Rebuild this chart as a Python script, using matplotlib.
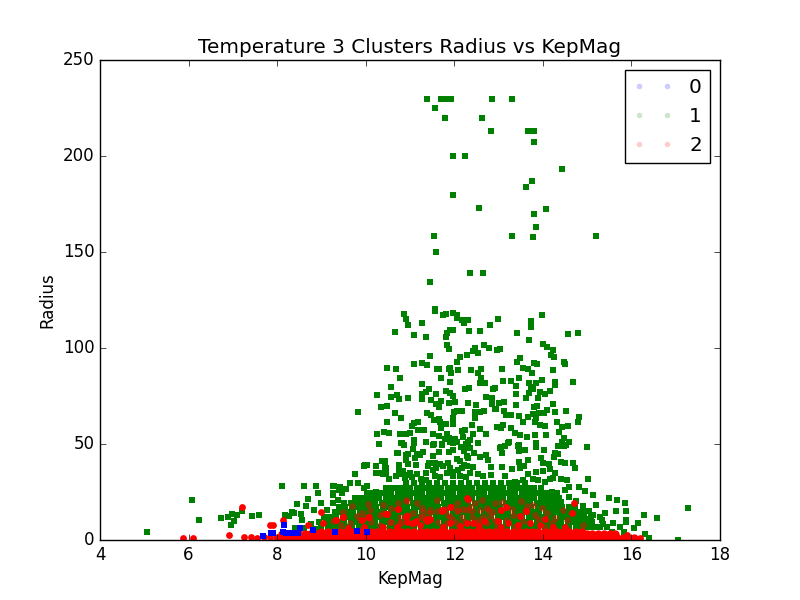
import numpy as np
import matplotlib
matplotlib.use("Agg")
import matplotlib.pyplot as plt
from matplotlib.lines import Line2D

plt.style.use('classic')

#%% data (KepMag, Radius)
# cluster 1, isolated points high up
green_outliers = [
    [11.39, 229.5], [11.71, 229.5], [11.81, 229.5], [11.93, 229.5], [12.86, 229.5], [13.31, 229.5],
    [11.57, 224.8], [11.80, 219.6], [12.63, 219.6], [12.84, 212.9], [13.67, 212.9], [13.81, 212.9],
    [13.81, 207.1], [11.98, 199.8], [12.25, 199.8], [14.44, 193.1], [13.76, 186.8], [13.63, 183.7],
    [11.98, 179.5], [12.56, 172.8], [14.08, 172.2], [13.81, 169.6], [13.85, 162.9], [11.55, 158.2],
    [13.31, 158.2], [13.78, 157.7], [15.21, 158.2], [11.59, 149.8], [12.36, 138.9], [12.65, 138.9],
    [11.46, 134.2], [11.57, 120.2],
]

# cluster 1, scattered cloud 47 < Radius < 120
green_mid = [
    [10.87, 117.5], [10.92, 114.9], [10.96, 111.8], [10.65, 108.2], [11.08, 106.6], [11.26, 112.8],
    [11.37, 105.6], [11.57, 119.1], [11.75, 117.0], [11.81, 117.5], [11.98, 118.1], [12.05, 117.0],
    [12.05, 115.5], [12.18, 114.4], [12.23, 112.8], [12.32, 114.4], [11.91, 109.2], [11.96, 109.2],
    [11.84, 107.6], [11.82, 105.6], [12.34, 108.7], [12.59, 108.7], [12.81, 111.8], [12.99, 114.9],
    [13.42, 107.6], [13.73, 113.9], [13.74, 110.8], [13.99, 117.0], [14.57, 107.1], [14.80, 107.6],
    [13.69, 104.0], [14.01, 101.9], [14.10, 100.3], [14.24, 98.8], [14.19, 96.2], [14.26, 95.1],
    [14.48, 92.5], [14.51, 91.5], [12.68, 101.4], [12.79, 99.8], [12.97, 98.8], [13.04, 99.3],
    [12.47, 99.8], [12.43, 98.3], [12.54, 97.2], [12.29, 96.2], [12.14, 95.1], [12.05, 92.5],
    [11.84, 101.4], [11.89, 99.3], [11.46, 95.7], [11.08, 91.5], [11.28, 92.0], [11.39, 91.0],
    [10.47, 89.4], [10.69, 88.9], [10.78, 84.2], [11.60, 88.9], [11.66, 88.9], [11.87, 88.9],
    [11.91, 89.4], [11.93, 86.8], [12.09, 88.4], [12.38, 88.4], [12.54, 86.8], [12.61, 88.9],
    [13.08, 88.9], [13.42, 92.5], [13.49, 94.6], [13.56, 89.4], [13.67, 88.9], [13.76, 86.8],
    [13.81, 92.0], [13.87, 91.5], [14.24, 88.4], [11.71, 84.2], [11.91, 82.1], [11.28, 81.1],
    [12.61, 84.2], [12.59, 81.6], [12.70, 81.6], [13.11, 82.6], [13.29, 82.6], [13.45, 84.2],
    [13.69, 81.6], [13.85, 81.6], [13.99, 83.2], [14.28, 82.1], [14.28, 80.6], [14.69, 82.1],
    [10.58, 79.5], [10.26, 75.3], [10.58, 74.3], [10.71, 75.3], [10.76, 73.3], [10.96, 73.8],
    [11.26, 75.9], [11.35, 76.9], [11.44, 78.5], [11.59, 75.9], [11.82, 77.4], [11.91, 76.4],
    [11.98, 74.8], [12.25, 78.5], [12.34, 79.0], [12.72, 74.3], [12.88, 78.5], [12.93, 79.0],
    [12.86, 73.8], [13.02, 71.2], [13.13, 71.7], [13.40, 75.9], [13.40, 80.0], [13.63, 73.8],
    [13.69, 76.4], [13.74, 79.5], [13.78, 78.5], [13.90, 73.8], [13.94, 76.9], [14.05, 75.9],
    [14.17, 77.4], [14.24, 70.7], [11.26, 73.3], [11.48, 72.7], [11.59, 70.7], [11.66, 69.1],
    [11.71, 72.2], [11.87, 71.2], [12.02, 71.7], [12.32, 71.2], [12.50, 70.1], [12.86, 70.7],
    [12.93, 68.1], [13.40, 70.1], [13.81, 69.1], [13.87, 69.6], [13.92, 66.0], [14.10, 67.5],
    [14.28, 66.5], [14.53, 67.0], [9.83, 66.5], [10.35, 69.1], [10.47, 69.6], [10.67, 66.0],
    [10.80, 63.4], [10.47, 61.3], [11.05, 59.2], [11.08, 60.8], [11.17, 61.3], [11.17, 57.1],
    [11.32, 57.1], [11.39, 66.0], [11.48, 64.9], [11.55, 62.3], [11.66, 62.8], [11.68, 61.3],
    [11.71, 58.2], [11.82, 60.2], [11.96, 60.2], [12.00, 66.5], [12.05, 67.0], [11.96, 63.4],
    [12.18, 67.0], [12.47, 66.5], [12.47, 63.4], [12.59, 66.5], [12.68, 67.0], [12.41, 59.7],
    [12.57, 57.6], [12.95, 68.1], [13.13, 67.0], [13.17, 64.9], [13.29, 64.9], [13.47, 64.4],
    [13.56, 61.3], [13.67, 63.9], [13.78, 65.5], [13.85, 63.4], [13.94, 66.0], [14.03, 66.0],
    [13.83, 61.3], [13.94, 59.7], [14.05, 59.2], [14.33, 61.3], [14.44, 58.7], [14.57, 59.2],
    [14.82, 63.9], [14.80, 61.3], [10.26, 55.0], [10.42, 56.1], [10.53, 55.6], [10.78, 55.0],
    [10.92, 55.0], [10.99, 55.6], [11.10, 51.9], [11.10, 50.4], [11.37, 50.9], [11.53, 55.0],
    [11.55, 49.8], [11.66, 54.0], [11.78, 52.4], [11.84, 55.0], [11.89, 53.0], [12.02, 52.4],
    [12.05, 50.9], [12.18, 56.6], [12.25, 57.1], [12.20, 53.5], [12.36, 51.9], [12.43, 55.0],
    [12.72, 55.0], [12.97, 58.7], [13.06, 58.2], [13.11, 59.7], [13.29, 58.2], [13.38, 55.6],
    [13.49, 54.5], [13.65, 53.5], [13.83, 54.5], [14.08, 54.5], [14.37, 56.1], [14.48, 53.0],
    [14.60, 50.9], [15.00, 48.3], [10.31, 49.8], [10.80, 50.4], [10.87, 49.3], [11.73, 49.3],
    [11.98, 50.4], [12.29, 47.8], [13.06, 48.3], [13.15, 48.8], [13.24, 50.9], [13.47, 49.3],
    [13.85, 50.4], [14.35, 48.8], [14.53, 49.3],
]

# cluster 1, lower scattered part 30 < Radius < 52
green_low = [
    [12.30, 51.2], [12.35, 47.7], [12.54, 50.3], [13.04, 47.7], [13.08, 45.1], [13.22, 50.7],
    [13.44, 49.1], [13.47, 46.4], [13.60, 46.7], [13.67, 41.7], [13.85, 49.8], [13.85, 48.3],
    [14.03, 46.7], [13.96, 42.5], [14.01, 39.9], [14.28, 45.1], [14.35, 44.6], [14.26, 43.1],
    [14.44, 51.2], [14.48, 49.1], [14.69, 39.9], [14.51, 39.9], [14.14, 39.4], [14.17, 36.8],
    [13.85, 35.2], [13.67, 34.2], [13.58, 38.4], [13.47, 40.4], [13.49, 37.3], [13.31, 36.8],
    [13.08, 37.8], [12.84, 37.8], [12.77, 41.7], [12.72, 44.3], [12.59, 43.4], [12.45, 45.1],
    [12.32, 42.5], [12.43, 37.8], [12.36, 34.7], [12.54, 34.2], [12.65, 33.2], [12.84, 33.7],
    [13.15, 33.2], [13.38, 30.0], [13.56, 31.1], [13.78, 31.6], [13.90, 31.1], [14.05, 30.0],
    [14.28, 34.7], [14.42, 31.6], [14.55, 31.1], [14.60, 27.8], [14.82, 27.8], [15.02, 31.6],
    [10.31, 49.8], [10.80, 50.3], [10.87, 49.3], [11.10, 50.9], [11.37, 50.9], [11.53, 49.3],
    [11.73, 49.8], [11.91, 50.9], [12.04, 50.9], [12.27, 49.8], [11.07, 47.2], [10.96, 44.6],
    [10.71, 45.1], [11.16, 44.6], [11.30, 45.7], [11.53, 43.6], [11.66, 45.7], [11.89, 45.7],
    [11.98, 46.7], [12.16, 48.3], [12.23, 46.2], [12.29, 43.6], [10.37, 41.0], [10.44, 41.0],
    [10.92, 41.5], [10.96, 39.4], [11.12, 42.5], [11.23, 44.1], [11.44, 39.9], [11.57, 39.9],
    [11.68, 39.4], [11.86, 39.9], [12.07, 42.0], [12.14, 41.0], [12.23, 38.9], [9.99, 38.9],
    [10.24, 38.4], [10.44, 37.8], [10.76, 36.3], [10.85, 35.8], [11.01, 34.7], [11.14, 38.9],
    [11.16, 34.2], [11.37, 34.7], [11.41, 38.4], [11.53, 36.3], [11.59, 37.3], [11.75, 38.4],
    [11.91, 37.3], [11.98, 35.2], [12.09, 36.3], [12.18, 37.3], [12.29, 38.4], [9.76, 34.2],
    [10.24, 34.7], [10.40, 34.2], [10.46, 34.2], [10.53, 31.6], [10.69, 33.2], [10.78, 34.2],
    [10.89, 32.1], [10.96, 33.7], [11.05, 32.6], [11.25, 31.6], [11.37, 31.1], [11.57, 33.2],
    [11.68, 32.6], [11.84, 34.7], [11.98, 33.2], [12.14, 33.2], [12.27, 32.6], [9.27, 28.3],
    [9.42, 27.4], [9.49, 26.4], [9.27, 24.3], [9.38, 20.8], [9.64, 29.5], [9.83, 29.9],
    [9.95, 26.9], [14.73, 37.3], [15.03, 31.6], [14.42, 40.4], [14.24, 32.1], [14.01, 36.1],
    [14.15, 31.9],
]

# cluster 1, the sparse edges of the cloud near the axis
green_edges = [
    [5.05, 4.2], [6.08, 20.7], [6.23, 10.2], [6.74, 11.3], [6.90, 11.8], [6.99, 13.5],
    [7.03, 10.1], [7.09, 12.8], [6.96, 7.6], [7.21, 14.9], [7.44, 12.3], [7.59, 12.8],
    [8.12, 27.9], [8.45, 18.6], [8.61, 27.9], [8.66, 17.5], [8.88, 27.9], [8.93, 24.3],
    [8.84, 15.4], [8.34, 14.4], [8.39, 13.9], [8.54, 13.5], [8.27, 12.3], [8.18, 12.8],
    [8.41, 6.1], [8.61, 6.1], [8.76, 8.2], [8.86, 5.7], [9.29, 27.9], [9.40, 25.9],
    [9.27, 23.3], [9.46, 24.3], [9.56, 26.4], [9.76, 34.2], [9.97, 38.7], [10.02, 38.9],
    [10.24, 38.4], [10.29, 49.8], [10.44, 41.0], [10.46, 37.3], [10.40, 34.7], [10.25, 34.7],
    [10.72, 45.1], [10.81, 50.3], [10.86, 49.3], [10.91, 44.1], [10.75, 38.9], [10.81, 34.7],
    [9.82, 29.5], [10.02, 28.3], [10.23, 24.8], [10.47, 23.8], [9.27, 19.1], [9.49, 16.5],
    [8.98, 19.5], [9.05, 12.0], [8.95, 9.5], [9.12, 15.5], [8.70, 21.5], [8.55, 10.5],
    [15.14, 23.3], [15.50, 21.7], [15.68, 20.7], [15.86, 19.1], [15.66, 14.9], [15.88, 14.9],
    [17.28, 16.5], [16.29, 12.8], [16.58, 11.3], [15.88, 9.2], [15.88, 10.4], [16.31, 3.3],
    [16.40, 1.2], [17.06, 0.2], [15.29, 11.8], [15.33, 10.4], [15.14, 12.8], [14.97, 10.8],
    [15.44, 6.6], [15.59, 8.7], [15.74, 6.6], [15.83, 4.3], [14.12, 23.8], [14.21, 25.2],
    [14.33, 24.3], [14.42, 20.0], [14.28, 16.8], [14.54, 13.9], [14.69, 13.9], [14.84, 12.2],
    [14.60, 22.5], [14.75, 20.5], [14.90, 17.5], [15.05, 15.0], [15.20, 18.0], [15.40, 14.0],
    [14.50, 26.0], [14.95, 25.5], [15.35, 8.5], [16.05, 6.0], [16.15, 9.0], [15.55, 4.0],
]

# cluster 1, the dense core (one list of KepMag values per Radius level)
dense_y = [29.5, 27.0, 24.5, 22.0, 19.5, 17.0, 14.5, 12.0, 9.5, 7.0]
dense_x = [
    [10.90, 11.08, 11.26, 11.44, 11.62, 11.80, 11.98, 12.16, 12.34, 12.52, 12.70, 12.88, 13.06,
     13.24, 13.42, 13.60],
    [10.45, 10.59, 10.73, 10.87, 11.01, 11.15, 11.29, 11.43, 11.57, 11.71, 11.85, 11.99, 12.13,
     12.27, 12.41, 12.55, 12.69, 12.83, 12.97, 13.11, 13.25, 13.39, 13.53, 13.67, 13.81, 13.95],
    [10.02, 10.16, 10.30, 10.44, 10.58, 10.72, 10.86, 11.00, 11.14, 11.28, 11.42, 11.56, 11.70,
     11.84, 11.98, 12.12, 12.26, 12.40, 12.54, 12.68, 12.82, 12.96, 13.10, 13.24, 13.38, 13.52,
     13.66, 13.80, 13.94, 14.08, 14.22],
    [9.75, 9.89, 10.03, 10.17, 10.31, 10.45, 10.59, 10.73, 10.87, 11.01, 11.15, 11.29, 11.43,
     11.57, 11.71, 11.85, 11.99, 12.13, 12.27, 12.41, 12.55, 12.69, 12.83, 12.97, 13.11, 13.25,
     13.39, 13.53, 13.67, 13.81, 13.95, 14.09, 14.23, 14.37],
    [9.52, 9.66, 9.80, 9.94, 10.08, 10.22, 10.36, 10.50, 10.64, 10.78, 10.92, 11.06, 11.20,
     11.34, 11.48, 11.62, 11.76, 11.90, 12.04, 12.18, 12.32, 12.46, 12.60, 12.74, 12.88, 13.02,
     13.16, 13.30, 13.44, 13.58, 13.72, 13.86, 14.00, 14.14, 14.28, 14.42],
    [9.40, 9.54, 9.68, 9.82, 9.96, 10.10, 10.24, 10.38, 10.52, 10.66, 10.80, 10.94, 11.08,
     11.22, 11.36, 11.50, 11.64, 11.78, 11.92, 12.06, 12.20, 12.34, 12.48, 12.62, 12.76, 12.90,
     13.04, 13.18, 13.32, 13.46, 13.60, 13.74, 13.88, 14.02, 14.16, 14.30, 14.44, 14.58, 14.72],
    [9.30, 9.44, 9.58, 9.72, 9.86, 10.00, 10.14, 10.28, 10.42, 10.56, 10.70, 10.84, 10.98,
     11.12, 11.26, 11.40, 11.54, 11.68, 11.82, 11.96, 12.10, 12.24, 12.38, 12.52, 12.66, 12.80,
     12.94, 13.08, 13.22, 13.36, 13.50, 13.64, 13.78, 13.92, 14.06, 14.20, 14.34, 14.48, 14.62,
     14.76, 14.90],
    [9.20, 9.34, 9.48, 9.62, 9.76, 9.90, 10.04, 10.18, 10.32, 10.46, 10.60, 10.74, 10.88,
     11.02, 11.16, 11.30, 11.44, 11.58, 11.72, 11.86, 12.00, 12.14, 12.28, 12.42, 12.56, 12.70,
     12.84, 12.98, 13.12, 13.26, 13.40, 13.54, 13.68, 13.82, 13.96, 14.10, 14.24, 14.38, 14.52,
     14.66, 14.80, 14.94, 15.08],
    [9.10, 9.24, 9.38, 9.52, 9.66, 9.80, 9.94, 10.08, 10.22, 10.36, 10.50, 10.64, 10.78,
     10.92, 11.06, 11.20, 11.34, 11.48, 11.62, 11.76, 11.90, 12.04, 12.18, 12.32, 12.46, 12.60,
     12.74, 12.88, 13.02, 13.16, 13.30, 13.44, 13.58, 13.72, 13.86, 14.00, 14.14, 14.28, 14.42,
     14.56, 14.70, 14.84, 14.98, 15.12],
    [9.00, 9.14, 9.28, 9.42, 9.56, 9.70, 9.84, 9.98, 10.12, 10.26, 10.40, 10.54, 10.68,
     10.82, 10.96, 11.10, 11.24, 11.38, 11.52, 11.66, 11.80, 11.94, 12.08, 12.22, 12.36, 12.50,
     12.64, 12.78, 12.92, 13.06, 13.20, 13.34, 13.48, 13.62, 13.76, 13.90, 14.04, 14.18, 14.32,
     14.46, 14.60, 14.74, 14.88, 15.02, 15.16, 15.30],
]

# cluster 2, the solid band along the axis
band_y = [1.2, 3.0, 4.4]
band_x = [
    [8.00, 8.13, 8.26, 8.39, 8.52, 8.65, 8.78, 8.91, 9.04, 9.17, 9.30, 9.43, 9.56, 9.69, 9.82,
     9.95, 10.08, 10.21, 10.34, 10.47, 10.60, 10.73, 10.86, 10.99, 11.12, 11.25, 11.38, 11.51,
     11.64, 11.77, 11.90, 12.03, 12.16, 12.29, 12.42, 12.55, 12.68, 12.81, 12.94, 13.07, 13.20,
     13.33, 13.46, 13.59, 13.72, 13.85, 13.98, 14.11, 14.24, 14.37, 14.50, 14.63, 14.76, 14.89,
     15.02, 15.15, 15.28, 15.41, 15.54, 15.67, 15.80, 15.93, 16.06],
    [8.10, 8.23, 8.36, 8.49, 8.62, 8.75, 8.88, 9.01, 9.14, 9.27, 9.40, 9.53, 9.66, 9.79, 9.92,
     10.05, 10.18, 10.31, 10.44, 10.57, 10.70, 10.83, 10.96, 11.09, 11.22, 11.35, 11.48, 11.61,
     11.74, 11.87, 12.00, 12.13, 12.26, 12.39, 12.52, 12.65, 12.78, 12.91, 13.04, 13.17, 13.30,
     13.43, 13.56, 13.69, 13.82, 13.95, 14.08, 14.21, 14.34, 14.47, 14.60, 14.73, 14.86, 14.99,
     15.12, 15.25, 15.38, 15.51, 15.64],
    [9.00, 9.14, 9.28, 9.42, 9.56, 9.70, 9.84, 9.98, 10.12, 10.26, 10.40, 10.54, 10.68, 10.82,
     10.96, 11.10, 11.24, 11.38, 11.52, 11.66, 11.80, 11.94, 12.08, 12.22, 12.36, 12.50, 12.64,
     12.78, 12.92, 13.06, 13.20, 13.34, 13.48, 13.62, 13.76, 13.90, 14.04, 14.18, 14.32, 14.46,
     14.60, 14.74, 14.88],
]

# cluster 2, points away from the band
red_scatter = [
    [5.88, 1.2], [6.11, 1.2], [6.92, 2.6], [7.20, 17.4], [7.25, 1.5], [7.40, 1.7], [7.55, 1.2],
    [7.70, 1.6], [7.84, 1.4], [7.84, 7.8], [7.91, 7.8], [8.14, 10.4], [8.70, 7.8], [9.00, 14.8],
    [9.03, 8.7], [9.34, 10.4], [9.48, 11.8], [10.06, 11.8], [10.46, 13.5], [10.73, 16.0],
    [10.92, 12.0], [16.20, 1.2], [15.90, 2.4], [14.71, 19.1], [14.66, 13.9], [12.28, 21.7],
    [11.90, 17.0], [11.73, 15.4], [11.45, 10.8], [11.39, 9.7], [11.13, 9.7], [10.93, 12.5],
    [10.94, 9.4], [10.74, 16.0], [10.47, 13.5], [10.07, 11.8], [9.91, 10.4], [9.48, 11.8],
    [9.34, 10.4], [11.90, 8.7], [12.13, 7.3], [12.28, 8.7], [11.75, 6.6], [11.22, 7.8],
    [10.40, 6.6], [9.95, 6.6], [14.05, 10.8], [13.63, 14.9], [13.49, 12.3], [13.17, 17.0],
    [13.06, 15.4], [12.99, 9.7], [12.68, 9.7], [12.43, 8.7], [12.32, 21.2], [13.22, 8.7],
    [13.44, 7.8], [13.71, 8.7], [13.93, 7.8], [14.24, 7.0], [14.50, 6.6], [11.74, 15.6],
    [11.92, 17.4], [11.36, 10.4], [13.62, 15.1], [13.06, 15.6], [10.47, 13.5], [11.72, 15.3],
    [11.38, 10.8], [11.07, 8.7], [12.55, 7.2], [10.70, 6.8], [13.05, 6.9], [9.60, 6.5],
]

# cluster 2, points lying inside the green cloud (drawn see-through)
red_faint = [
    [10.94, 20.5], [10.74, 19.5], [10.58, 16.5], [10.32, 13.0], [10.13, 9.5], [9.87, 10.4],
    [9.64, 8.7], [9.49, 14.8], [9.27, 10.1], [11.26, 16.5], [11.45, 15.6], [11.60, 15.3],
    [11.30, 12.1], [11.04, 8.3], [10.77, 8.7], [10.58, 9.5], [10.32, 7.8], [11.86, 13.0],
    [12.09, 15.6], [12.17, 12.1], [11.98, 10.4], [12.28, 15.6], [11.15, 19.1], [10.10, 15.6],
    [9.91, 13.9], [12.62, 20.8], [12.92, 19.1], [13.07, 20.0], [13.33, 13.0], [13.78, 18.2],
    [13.97, 16.5], [13.82, 13.0], [14.27, 11.3], [12.39, 12.1], [12.77, 15.6], [12.54, 10.4],
    [13.37, 6.6], [14.91, 7.8], [14.05, 7.0], [12.96, 7.8], [12.35, 17.4], [11.60, 21.0],
    [12.05, 19.5], [13.50, 20.5], [10.40, 18.0], [14.45, 15.5], [9.70, 17.5], [12.80, 12.5],
    [10.92, 20.8], [10.94, 13.0], [11.07, 13.9], [11.30, 14.8], [11.45, 14.2], [11.79, 16.0],
    [12.05, 15.3], [12.20, 16.0], [12.39, 15.3], [12.58, 15.6], [12.73, 16.5], [12.88, 14.8],
    [12.47, 19.1], [12.32, 20.8], [11.45, 10.4], [11.64, 9.5], [11.83, 8.7], [12.05, 9.0],
    [12.24, 9.5], [12.50, 8.7], [12.73, 9.0], [12.92, 10.4], [10.55, 9.5], [10.77, 8.7],
    [10.40, 13.9], [10.77, 12.1], [11.22, 12.1], [11.90, 12.1], [12.65, 12.1], [13.20, 10.5],
    [13.55, 10.0], [13.90, 11.0], [14.20, 9.0], [14.55, 10.5], [13.30, 16.0], [13.65, 17.5],
    [14.10, 14.0], [9.80, 12.5], [9.45, 8.0], [10.05, 18.5],
]

# cluster 0
blue_pts = [
    [7.69, 2.1], [7.87, 3.8], [7.91, 3.5], [8.14, 4.3], [8.16, 7.8], [8.21, 3.5], [8.33, 3.8],
    [8.48, 3.8], [8.51, 6.1], [8.82, 5.2], [9.30, 4.3], [9.80, 4.9], [10.02, 4.4],
]

labels = ['0', '1', '2']
colors = ['blue', 'green', 'red']

#%% build the point sets
green = np.array(green_outliers + green_mid + green_low + green_edges)
dense = np.array([[x, y] for y, xs in zip(dense_y, dense_x) for x in xs])
band = np.array([[x, y] for y, xs in zip(band_y, band_x) for x in xs])
red = np.array(red_scatter)
faint = np.array(red_faint)
blue = np.array(blue_pts)

#%% plot
fig = plt.figure(figsize=(8, 6), facecolor='white')
ax = fig.add_axes([0.125, 0.1, 0.775, 0.8])

ax.scatter(green[:, 0], green[:, 1], s=16, marker='s', c='green', linewidths=0)
ax.scatter(dense[:, 0], dense[:, 1], s=21, marker='s', c='green', linewidths=0)
ax.scatter(band[:, 0], band[:, 1], s=36, marker='o', c='red', linewidths=0)
ax.scatter(red[:, 0], red[:, 1], s=24, marker='o', c='red', linewidths=0)
ax.scatter(faint[:, 0], faint[:, 1], s=24, marker='o', c='red', linewidths=0, alpha=0.45)
ax.scatter(blue[:, 0], blue[:, 1], s=16, marker='s', c='blue', linewidths=0)

ax.set_xlim(4, 18)
ax.set_ylim(0, 250)
ax.set_xticks(range(4, 19, 2))
ax.set_yticks(range(0, 251, 50))
ax.set_title('Temperature 3 Clusters Radius vs KepMag', fontsize=14.4)
ax.set_xlabel('KepMag', fontsize=12)
ax.set_ylabel('Radius', fontsize=12)
ax.tick_params(labelsize=12)

handles = [Line2D([], [], marker='o', ms=4, ls='none', color=c, mew=0, alpha=0.2) for c in colors]
ax.legend(handles, labels, loc='upper right', numpoints=2, fontsize=14.4,
          fancybox=False, framealpha=1, edgecolor='black')

fig.savefig('out.png', dpi=100, facecolor='white')
